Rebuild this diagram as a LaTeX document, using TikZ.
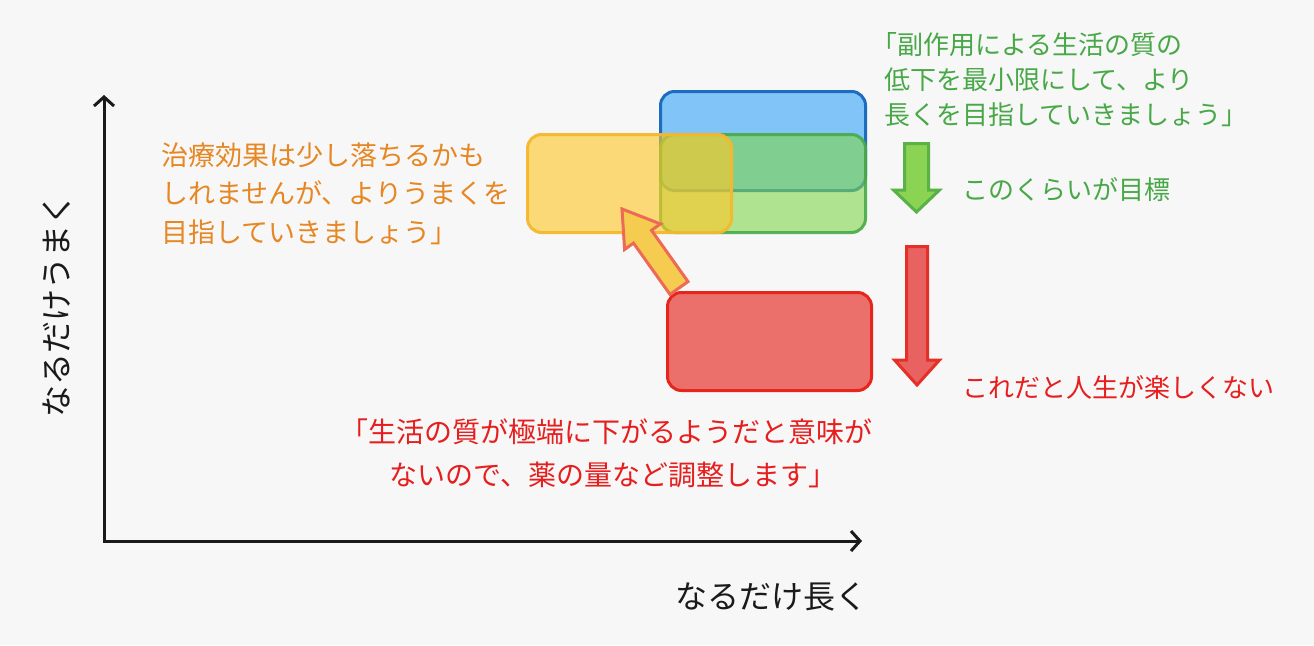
\documentclass[tikz,border=0pt]{standalone}
\usepackage{fontspec}
\setmainfont{Noto Sans CJK JP}
\usetikzlibrary{arrows.meta}
\definecolor{bg}{RGB}{247,247,247}
\definecolor{blueF}{RGB}{128,196,248}
\definecolor{blueD}{RGB}{28,108,192}
\definecolor{greenF}{RGB}{129,215,75}
\definecolor{greenD}{RGB}{72,170,72}
\definecolor{yelF}{RGB}{255,199,39}
\definecolor{yelD}{RGB}{245,184,46}
\definecolor{redF}{RGB}{235,111,107}
\definecolor{redD}{RGB}{230,38,28}
\definecolor{garF}{RGB}{139,211,82}
\definecolor{garD}{RGB}{88,178,70}
\definecolor{rarF}{RGB}{232,98,98}
\definecolor{rarD}{RGB}{228,48,39}
\definecolor{yarF}{RGB}{246,204,80}
\definecolor{yarD}{RGB}{236,106,86}
\definecolor{gtxt}{RGB}{72,168,72}
\definecolor{otxt}{RGB}{230,135,35}
\definecolor{rtxt}{RGB}{230,30,30}
\definecolor{ktxt}{RGB}{26,26,26}
\newcommand{\obr}{\makebox[0.5em][r]{「}}
\begin{document}
\begin{tikzpicture}[x=1pt,y=-1pt,
  box/.style={rounded corners=14pt, line width=3pt, inner sep=0pt},
  blockarrow/.style={line width=3pt, line join=miter},
  axis/.style={line width=3pt, draw=ktxt, {Straight Barb[length=9pt,width=20pt]}-{Straight Barb[length=9pt,width=20pt]}},
  gtext/.style={text=gtxt, inner sep=0pt, font=\fontsize{26pt}{35pt}\selectfont},
  otext/.style={text=otxt, inner sep=0pt, font=\fontsize{27pt}{38.5pt}\selectfont},
  rtext/.style={text=rtxt, inner sep=0pt, font=\fontsize{26pt}{35pt}\selectfont},
  rbtext/.style={text=rtxt, inner sep=0pt, font=\fontsize{28pt}{43pt}\selectfont},
  ktext/.style={text=ktxt, inner sep=0pt, font=\fontsize{32pt}{36pt}\selectfont}]
\fill[bg] (0,0) rectangle (1314,645);
\useasboundingbox (0,0) rectangle (1314,645);

% axes
\coordinate (O) at (104,541);
\coordinate (ytip) at (104,95);
\coordinate (xtip) at (862,541);
\draw[axis] (ytip) -- (O) -- (xtip);
\node[ktext, rotate=90] (ylab) at (57,305) {なるだけうまく};
\node[ktext] (xlab) at (771,597) {なるだけ長く};

% boxes
\node[box, draw=blueD, fill=blueF, minimum width=205pt, minimum height=99pt] (blue) at (763,141) {};
\node[box, draw=greenD, fill=greenF, fill opacity=0.6, draw opacity=0.9, minimum width=205pt, minimum height=98pt] (green) at (763,183.5) {};
\node[box, draw=yelD, fill=yelF, fill opacity=0.62, draw opacity=0.95, minimum width=204pt, minimum height=98pt] (yellow) at (629.5,183.5) {};
\node[box, draw=redD, fill=redF, minimum width=204pt, minimum height=98pt] (red) at (769.5,341.5) {};

% diagonal arrow from red box to yellow box
\coordinate (yaTip) at (622,209);
\fill[yarF, draw=yarD, blockarrow] (670,294.4) -- (633.5,243.1) -- (624.6,249.5) -- (yaTip) -- (660.4,223.9) -- (651.5,230.3) -- (688,281.6) -- cycle;

% green down arrow
\fill[garF, draw=garD, blockarrow] (904.5,143.5) -- (928.5,143.5) -- (928.5,190) -- (939.5,190) -- (916.5,212) -- (893.5,190) -- (904.5,190) -- cycle;
% red down arrow
\fill[rarF, draw=rarD, blockarrow] (906.5,246.5) -- (927.5,246.5) -- (927.5,360) -- (939.5,360) -- (917,385) -- (894.5,360) -- (906.5,360) -- cycle;

% texts
\node[gtext, anchor=west, align=left] (gq) at (884,80) {\obr 副作用による生活の質の\\低下を最小限にして、より\\長くを目指していきましょう」};
\node[gtext, anchor=west] (goal) at (962,190) {このくらいが目標};
\node[rtext, anchor=west] (bad) at (962,388) {これだと人生が楽しくない};
\node[otext, anchor=west, align=left] (oq) at (161,193.5) {治療効果は少し落ちるかも\\しれませんが、よりうまくを\\目指していきましょう」};
\node[rbtext, align=center] (rq) at (613,453.5) {\obr 生活の質が極端に下がるようだと意味が\\ないので、薬の量など調整します」};
\end{tikzpicture}
\end{document}
